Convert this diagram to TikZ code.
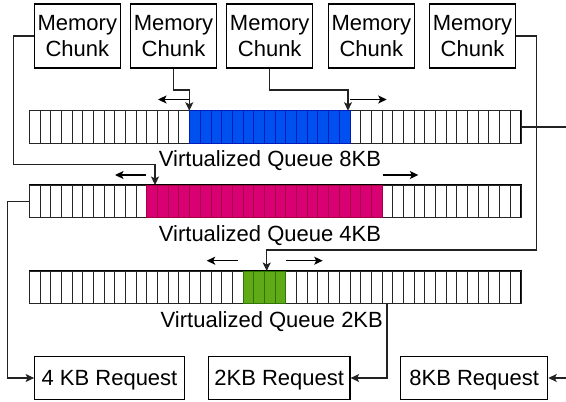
\documentclass[tikz,border=0pt]{standalone}
\usepackage{fontspec}
\setmainfont{Liberation Sans}
\usetikzlibrary{arrows.meta,calc}
\definecolor{qblue}{HTML}{0050EF}
\definecolor{qbluel}{HTML}{001DBC}
\definecolor{qmag}{HTML}{D80073}
\definecolor{qmagl}{HTML}{A50040}
\definecolor{qgreen}{HTML}{60A917}
\definecolor{qgreenl}{HTML}{2D7600}
\definecolor{wire}{HTML}{222222}
\newcommand{\qcells}[5]{% y, first, count, fill, stroke
  \foreach \i in {0,...,45} \draw[cell] ({29.3+\i*10.689},#1) rectangle ++(10.689,32.6);
  \pgfmathtruncatemacro{\qlast}{#2+#3-1}
  \foreach \i in {#2,...,\qlast} \draw[cell,fill=#4,draw=#5] ({29.3+\i*10.689},#1) rectangle ++(10.689,32.6);
}
\begin{document}
\begin{tikzpicture}[x=1pt,y=-1pt,
  txt/.style={font=\fontsize{22}{26.5}\selectfont},
  box/.style={txt,draw=black,line width=1.2pt,align=center,inner sep=0pt},
  mem/.style={box,minimum width=86pt,minimum height=64pt},
  req/.style={box,minimum height=42.6pt,text depth=0pt},
  queue/.style={draw=black,line width=1.2pt,minimum width=491.7pt,minimum height=32.6pt,inner sep=0pt},
  cell/.style={draw=black!85,line width=0.9pt},
  conn/.style={draw=wire,line width=1.2pt,-{Stealth[length=8.5pt,width=8pt,inset=2pt]}},
  wireline/.style={draw=wire,line width=1.2pt},
  lbl/.style={txt,anchor=base,inner sep=0pt}]
\useasboundingbox (0,0) rectangle (566,402);

% memory chunks
\node[mem] (m1) at (77.3,36) {Memory\\Chunk};
\node[mem] (m2) at (173.5,36) {Memory\\Chunk};
\node[mem] (m3) at (269.7,36) {Memory\\Chunk};
\node[mem] (m4) at (371.3,36) {Memory\\Chunk};
\node[mem] (m5) at (472.5,36) {Memory\\Chunk};

% queues
\node[queue] (q1) at (275.15,127.0) {};
\qcells{110.7}{15}{15}{qblue}{qbluel}
\node[queue] (q2) at (275.15,201.3) {};
\qcells{185.0}{11}{22}{qmag}{qmagl}
\node[queue] (q3) at (275.15,287.3) {};
\qcells{271.0}{20}{4}{qgreen}{qgreenl}

\node[lbl] (l1) at (270,166.7) {Virtualized Queue 8KB};
\node[lbl] (l2) at (270,241.0) {Virtualized Queue 4KB};
\node[lbl] (l3) at (271.8,327.0) {Virtualized Queue 2KB};

% requests
\node[req,minimum width=149.6pt] (r1) at (109.5,378) {4 KB Request};
\node[req,minimum width=141.7pt] (r2) at (279.2,378) {2KB Request};
\node[req,minimum width=147pt] (r3) at (474.2,378) {8KB Request};

% connector end points
\coordinate (t1) at (189.3,110.7);
\coordinate (t2) at (348.0,110.7);
\coordinate (t3) at (155.0,185.0);
\coordinate (t4) at (266.7,271.0);
\coordinate (s1) at (387.0,303.3);
\coordinate (e1) at (566,127.0);
\coordinate (e2) at (566,378);

\draw[conn] (m2.south) -- ($(m2.south)+(0,21.3)$) -| (t1);
\draw[conn] (m3.south) -- ($(m3.south)+(0,21.3)$) -| (t2);
\draw[conn] (m1.west) -- (13.3,36) |- ($(t3)+(0,-20.7)$) -- (t3);
\draw[conn] (m5.east) -- (536.7,36) |- ($(t4)+(0,-21)$) -- (t4);
\draw[conn] (q2.west) -- ($(q2.west)+(-21,0)$) |- (r1.west);
\draw[conn] (s1) |- (r2.east);
\draw[conn] (e2) -- (r3.east);
\draw[wireline] (q1.east) -- (e1);

% direction arrows
\coordinate (a1s) at (189,99.5);   \coordinate (a1e) at (158,99.5);
\coordinate (a2s) at (350,99.5);   \coordinate (a2e) at (386.7,99.5);
\coordinate (a3s) at (146,175);    \coordinate (a3e) at (115,175);
\coordinate (a4s) at (382.7,175);  \coordinate (a4e) at (418.3,175);
\coordinate (a5s) at (237.7,260.7);\coordinate (a5e) at (206.7,260.7);
\coordinate (a6s) at (286,260.7);  \coordinate (a6e) at (322.7,260.7);
\foreach \k in {1,...,6} \draw[conn,draw=black] (a\k s) -- (a\k e);
\end{tikzpicture}
\end{document}
